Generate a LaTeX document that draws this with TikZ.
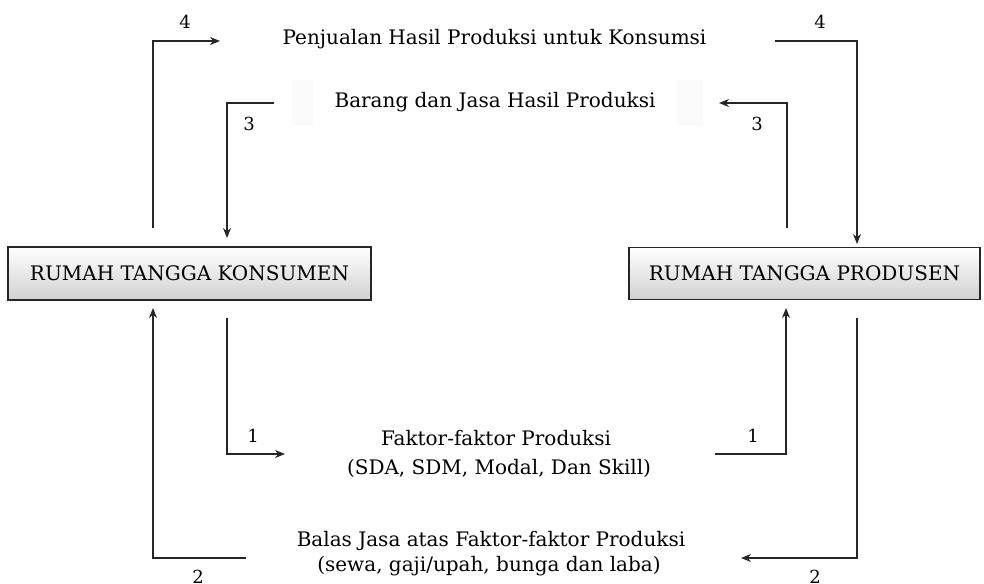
\documentclass[tikz,border=0pt]{standalone}
\usepackage{fontspec}
\setmainfont{DejaVu Serif}
\usetikzlibrary{arrows.meta}
\tikzset{
  box/.style={draw=black!85, line width=1.3pt, top color=white, middle color=white, bottom color=black!18, inner sep=0pt, font=\fontsize{20}{24}\selectfont},
  lbl/.style={inner sep=0pt, anchor=base, font=\fontsize{20}{24}\selectfont},
  num/.style={inner sep=0pt, font=\fontsize{18}{21}\selectfont},
  flow/.style={line width=1.4pt, draw=black!85, -{Stealth[length=10pt,width=8pt]}},
  faint/.style={fill=black!2, draw=none}
}
\begin{document}
\begin{tikzpicture}[x=1pt,y=-1pt]
\useasboundingbox (0,0) rectangle (984,583);
% boxes
\node[box, minimum width=363pt, minimum height=53pt] (kons) at (189.5,273.5) {RUMAH TANGGA KONSUMEN};
\node[box, minimum width=351pt, minimum height=52pt] (prod) at (804.5,273.5) {RUMAH TANGGA PRODUSEN};
% faint patches
\fill[faint] (292,80) rectangle (313,125);
\fill[faint] (677,80) rectangle (703,125);
% labels
\node[lbl] (penj) at (494.5,45) {Penjualan Hasil Produksi untuk Konsumsi};
\node[lbl] (bar) at (495,108) {Barang dan Jasa Hasil Produksi};
\node[lbl] (fak) at (496,445) {Faktor-faktor Produksi};
\node[lbl] (fak2) at (499,474) {(SDA, SDM, Modal, Dan Skill)};
\node[lbl] (bal) at (491,546) {Balas Jasa atas Faktor-faktor Produksi};
\node[lbl] (bal2) at (489,571) {(sewa, gaji/upah, bunga dan laba)};
% numbers
\node[num] (n4l) at (185,22) {4};
\node[num] (n4r) at (820,22) {4};
\node[num] (n3l) at (249,124) {3};
\node[num] (n3r) at (757,124) {3};
\node[num] (n1l) at (253,436) {1};
\node[num] (n1r) at (753,436) {1};
\node[num] (n2l) at (198,577) {2};
\node[num] (n2r) at (815,577) {2};
% connector end points
\coordinate (a4s) at (153,228); \coordinate (a4e) at (220,41);
\coordinate (b4s) at (775,41);  \coordinate (b4e) at (857,244);
\coordinate (a3s) at (274,103); \coordinate (a3e) at (227,238);
\coordinate (b3s) at (787,228); \coordinate (b3e) at (719,103);
\coordinate (a1s) at (227,318); \coordinate (a1e) at (285,454);
\coordinate (b1s) at (715,454); \coordinate (b1e) at (786,308);
\coordinate (a2s) at (246,558); \coordinate (a2e) at (153,308);
\coordinate (b2s) at (857,318); \coordinate (b2e) at (741,558);
% connectors
\draw[flow] (a4s) |- (a4e);
\draw[flow] (b4s) -| (b4e);
\draw[flow] (a3s) -| (a3e);
\draw[flow] (b3s) |- (b3e);
\draw[flow] (a1s) |- (a1e);
\draw[flow] (b1s) -| (b1e);
\draw[flow] (a2s) -| (a2e);
\draw[flow] (b2s) |- (b2e);
\end{tikzpicture}
\end{document}
